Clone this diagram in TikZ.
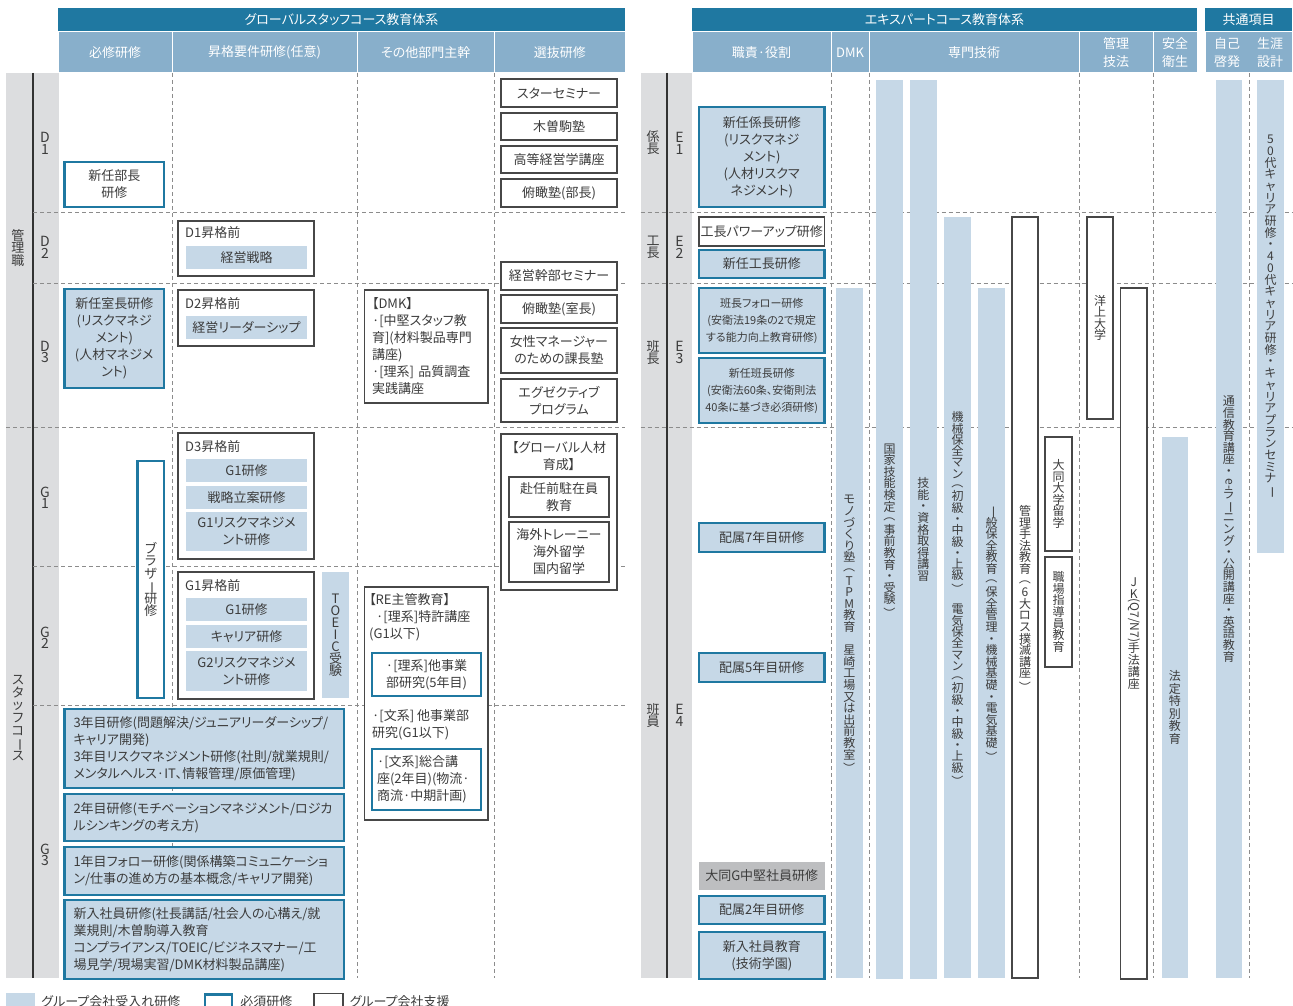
\documentclass[tikz,border=0pt]{standalone}
\usepackage{fontspec}
\setmainfont[RawFeature=+palt]{Noto Sans CJK JP}
\usetikzlibrary{positioning}

\definecolor{hdrblue}{HTML}{1F78A1}
\definecolor{subblue}{HTML}{88AFCB}
\definecolor{lightblue}{HTML}{C6D8E7}
\definecolor{bandgrey}{HTML}{DCDDDF}
\definecolor{boxgrey}{HTML}{BDBEC0}
\definecolor{inkgrey}{HTML}{3C3C3C}

\newcommand\fsz[2]{\fontsize{#1}{#2}\selectfont}
% stacked (vertical) text, one glyph per line
\makeatletter
\newcommand\vtxt@stop{\vtxt@stop@}
\newcommand\vtxt[2][11.6pt]{\vbox{\baselineskip=#1\lineskiplimit=-2pt\lineskip=0.5pt\vtxt@#2\vtxt@stop}}
\def\vtxt@#1{\ifx#1\vtxt@stop\else\hbox to 1.2em{\hss#1\hss}\expandafter\vtxt@\fi}
\makeatother
\newcommand\vrot[1]{\rotatebox[origin=c]{-90}{#1}}
\newcommand\vL{\vrot{（}}
\newcommand\vR{\vrot{）}}
\newcommand\vB{\vrot{ー}}
\newcommand\vI{\vrot{一}}
\newcommand\vJK{\vrot{(Q7/N7)}}
\newcommand\vE{\vrot{e-}}
\newcommand\vsp{}

\begin{document}
\begin{tikzpicture}[x=1pt,y=-1pt,font=\fsz{13}{17},text=inkgrey,
  sz/.style 2 args={minimum width=#1,minimum height=#2},
  hdr/.style={fill=hdrblue,text=white,inner sep=0pt},
  subh/.style={fill=subblue,draw=white,line width=1pt,text=white,inner sep=0pt,align=center,font=\fsz{13}{18}},
  must/.style={draw=hdrblue,line width=2.4pt,fill=white,inner sep=0pt,align=center},
  mustacc/.style={must,fill=lightblue},
  grp/.style={draw=black!72,line width=1.1pt,fill=white,inner sep=0pt,align=center},
  acc/.style={fill=lightblue,inner sep=0pt,align=center},
  mid/.style={fill=boxgrey,inner sep=0pt,align=center},
  small/.style={font=\fsz{11}{17}},
  ttl/.style={anchor=west,inner sep=0pt},
  rowsep/.style={draw=black!45,line width=0.7pt,dash pattern=on 4pt off 3pt},
  rank/.style={inner sep=0pt,font=\fsz{13}{13}},
  grade/.style={inner sep=0pt,font=\fsz{14}{14}},
  vbar/.style={inner sep=0pt,font=\fsz{12}{12}}]
\clip (0,0) rectangle (1293,1006);
\fill[white] (0,0) rectangle (1293,1006);

% headers
\node[hdr,sz={567}{24}] (hdrL) at (341.5,20) {グローバルスタッフコース教育体系};
\node[hdr,sz={505}{24}] (hdrE) at (944.5,20) {エキスパートコース教育体系};
\node[hdr,sz={87}{24}] (hdrC) at (1248.5,20) {共通項目};
\node[subh,sz={114}{41}] (hL1) at (115,52.5) {必修研修};
\node[subh,sz={185}{41}] (hL2) at (264.5,52.5) {昇格要件研修(任意)};
\node[subh,sz={137.5}{41}] (hL3) at (425.75,52.5) {その他部門主幹};
\node[subh,sz={130.5}{41}] (hL4) at (559.75,52.5) {選抜研修};
\node[subh,sz={139}{41}] (hE1) at (761.5,52.5) {職責·役割};
\node[subh,sz={38}{41}] (hE2) at (850,52.5) {DMK};
\node[subh,sz={210}{41}] (hE3) at (974,52.5) {専門技術};
\node[subh,sz={74}{41}] (hE4) at (1116,52.5) {管理\\技法};
\node[subh,sz={44}{41}] (hE5) at (1175,52.5) {安全\\衛生};
\node[subh,sz={87}{41}] (hC1) at (1248.5,52.5) {};
\node[text=white,align=center,inner sep=0pt,font=\fsz{13}{18}] (hC2) at (1227,52.5) {自己\\啓発};
\node[text=white,align=center,inner sep=0pt,font=\fsz{13}{18}] (hC3) at (1270,52.5) {生涯\\設計};

% grade bands
\fill[bandgrey] (6,73) rectangle (59,978);
\fill[bandgrey] (640.5,73) rectangle (692,978);
\draw[line width=1.2pt,black!80] (33,73) -- (33,978);
\draw[line width=1.2pt,black!80] (667,73) -- (667,978);

% grid
\foreach \y in {212,283,566,705} \draw[rowsep] (33,\y) -- (625,\y);
\draw[rowsep] (6,427.5) -- (625,427.5);
\foreach \y in {212,283,427.5} \draw[rowsep] (640.5,\y) -- (1292,\y);
\foreach \x in {172,357,494.5,831,869,1079,1153.5,1249} \draw[rowsep] (\x,73) -- (\x,978);

\node[rank] (rk1) at (18,248) {\vtxt[12.6pt]{管理職}};
\node[rank] (rk2) at (18,718) {\vtxt[12.6pt]{スタッフコ\vB ス}};
\foreach \a/\b/\y in {D/1/143.5,D/2/247.5,D/3/352,G/1/498,G/2/638,G/3/855}
  \node[grade] (gr\a\b) at (45,\y) {\vtxt[11.5pt]{\a\b}};
\node[rank] (rk3) at (653,142.5) {\vtxt[12.6pt]{係長}};
\node[rank] (rk4) at (653,247.5) {\vtxt[12.6pt]{工長}};
\node[rank] (rk5) at (653,352.5) {\vtxt[12.6pt]{班長}};
\node[rank] (rk6) at (653,715.5) {\vtxt[12.6pt]{班員}};
\foreach \b/\y in {1/143.5,2/247.5,3/352.5,4/715.5}
  \node[grade] (grE\b) at (679.5,\y) {\vtxt[11.5pt]{E\b}};

% global staff course
\node[must,sz={99.5}{45}] (bucho) at (114.25,184.5) {新任部長\\研修};
\node[mustacc,sz={99.5}{99}] (shitsucho) at (114.25,338.5) {新任室長研修\\(リスクマネジ\\メント)\\(人材マネジメ\\ント)};
\node[must,sz={26.5}{237}] (brother) at (150.75,579.5) {\vtxt[12.5pt]{ブラザ\vB 研修}};

\node[grp,sz={136}{55}] (preD1) at (246,248.5) {};
\node[ttl] (preD1t) at (185,233) {D1昇格前};
\node[acc,sz={121}{23}] (keiei) at (246.5,257.5) {経営戦略};
\node[grp,sz={136}{56}] (preD2) at (246,318) {};
\node[ttl] (preD2t) at (185,304) {D2昇格前};
\node[acc,sz={121}{23}] (leader) at (246.5,327.5) {経営リーダーシップ};
\node[grp,sz={136}{126}] (preD3) at (246,496) {};
\node[ttl] (preD3t) at (185,447) {D3昇格前};
\node[acc,sz={121}{23}] (g1a) at (246.5,470.5) {G1研修};
\node[acc,sz={121}{23}] (senryaku) at (246.5,497.5) {戦略立案研修};
\node[acc,sz={121}{39}] (riskG1) at (246.5,531.5) {G1リスクマネジメ\\ント研修};
\node[grp,sz={136}{127}] (preG1) at (246,635.5) {};
\node[ttl] (preG1t) at (185,586) {G1昇格前};
\node[acc,sz={121}{23}] (g1b) at (246.5,609.5) {G1研修};
\node[acc,sz={121}{23}] (career) at (246.5,636.5) {キャリア研修};
\node[acc,sz={121}{40}] (riskG2) at (246.5,671) {G2リスクマネジメ\\ント研修};
\node[acc,sz={27}{126}] (toeic) at (335.5,635) {\vtxt[12pt]{TOEIC受験}};

\node[grp,align=left,text width=108.5,inner xsep=7.5pt,minimum height=113] (dmk) at (426.25,346.5)
  {【DMK】\\·[中堅スタッフ教\\育](材料製品専門\\講座)\\·[理系] 品質調査\\実践講座};
\node[grp,sz={123.5}{233}] (re) at (426.25,703.5) {};
\node[anchor=north west,align=left,inner sep=0pt] (ret) at (369,593)
  {【RE主管教育】\\\hspace{7pt}·[理系]特許講座\\(G1以下)};
\node[must,sz={109}{43}] (re1) at (426.5,674.5) {·[理系]他事業\\部研究(5年目)};
\node[anchor=north west,align=left,inner sep=0pt] (ret2) at (372,709) {·[文系] 他事業部\\研究(G1以下)};
\node[must,align=left,text width=99,inner xsep=5pt,minimum height=61] (re2) at (426.5,779.5)
  {·[文系]総合講\\座(2年目)(物流·\\商流·中期計画)};

\foreach \y/\h/\t in {93/28/スターセミナー,126.5/27/木曽駒塾,159.5/27/高等経営学講座,193/28/俯瞰塾(部長),
  276/28/経営幹部セミナー,309/28/俯瞰塾(室長),350.5/45/女性マネージャー\\のための課長塾,400.5/43/エグゼクティブ\\プログラム}
  \node[grp,sz={116}{\h}] at (559,\y) {\t};
\node[grp,sz={116}{156}] (global) at (559,512) {};
\node[align=center,inner sep=0pt] (globalt) at (559,456.5) {【グローバル人材\\育成】};
\node[grp,sz={100}{40}] (funin) at (559,497) {赴任前駐在員\\教育};
\node[grp,sz={100}{60}] (kaigai) at (559,552) {海外トレーニー\\海外留学\\国内留学};

\node[mustacc,align=left,text width=261.5,inner xsep=9pt,minimum height=79] (y3) at (204.25,748.5)
  {3年目研修(問題解決/ジュニアリーダーシップ/\\キャリア開発)\\3年目リスクマネジメント研修(社則/就業規則/\\メンタルヘルス·IT、情報管理/原価管理)};
\node[mustacc,align=left,text width=261.5,inner xsep=9pt,minimum height=47] (y2) at (204.25,817.5)
  {2年目研修(モチベーションマネジメント/ロジカ\\ルシンキングの考え方)};
\node[mustacc,align=left,text width=261.5,inner xsep=9pt,minimum height=48] (y1) at (204.25,871)
  {1年目フォロー研修(関係構築コミュニケーショ\\ン/仕事の進め方の基本概念/キャリア開発)};
\node[mustacc,align=left,text width=261.5,inner xsep=9pt,minimum height=79] (y0) at (204.25,939.5)
  {新入社員研修(社長講話/社会人の心構え/就\\業規則/木曽駒導入教育\\コンプライアンス/TOEIC/ビジネスマナー/工\\場見学/現場実習/DMK材料製品講座)};

% expert course
\node[mustacc,sz={125.5}{100}] (kakari) at (761.75,157) {新任係長研修\\(リスクマネジ\\メント)\\(人材リスクマ\\ネジメント)};
\node[grp,sz={125.5}{29}] (power) at (761.75,231.5) {工長パワーアップ研修};
\node[mustacc,sz={125.5}{28}] (kocho) at (761.75,264) {新任工長研修};
\node[mustacc,small,sz={125.5}{65}] (follow) at (761.75,320.5) {班長フォロー研修\\(安衛法19条の2で規定\\する能力向上教育研修)};
\node[mustacc,small,sz={125.5}{65}] (hancho) at (761.75,390.5) {新任班長研修\\(安衛法60条、安衛則法\\40条に基づき必須研修)};
\node[mustacc,sz={125.5}{29}] (y7) at (761.75,537.5) {配属7年目研修};
\node[mustacc,sz={125.5}{29}] (y5) at (761.75,667.5) {配属5年目研修};
\node[mid,sz={125.5}{28}] (chuken) at (761.75,876) {大同G中堅社員研修};
\node[mustacc,sz={125.5}{28}] (y2e) at (761.75,910) {配属2年目研修};
\node[mustacc,sz={125.5}{47}] (gakuen) at (761.75,955.5) {新入社員教育\\(技術学園)};

\node[acc,vbar,sz={26.5}{690}] (tpm) at (849.25,633) {\vtxt{モノづくり塾\vL TPM教育\vsp 星崎工場又は出前教室\vR}};
\node[acc,vbar,sz={27}{899}] (kokka) at (889.5,529.5) {\vtxt{国家技能検定\vL 事前教育・受験\vR}};
\node[acc,vbar,sz={26.5}{899}] (shikaku) at (923.25,529.5) {\vtxt{技能・資格取得講習}};
\node[acc,vbar,sz={27}{761}] (hozen) at (957.5,597.5) {\vtxt[11.3pt]{機械保全マン\vL 初級・中級・上級\vR\vsp 電気保全マン\vL 初級・中級・上級\vR}};
\node[acc,vbar,sz={27}{690}] (ippan) at (991.5,633) {\vtxt{\vI 般保全教育\vL 保全管理・機械基礎・電気基礎\vR}};
\node[grp,vbar,sz={26}{761}] (loss) at (1025,597.5) {\vtxt{管理手法教育\vL 6大ロス撲滅講座\vR}};
\node[grp,vbar,sz={27}{114}] (daido) at (1058.5,494) {\vtxt{大同大学留学}};
\node[grp,vbar,sz={27}{110}] (shido) at (1058.5,612) {\vtxt{職場指導員教育}};
\node[grp,vbar,sz={26}{202}] (yojo) at (1100,318) {\vtxt{洋上大学}};
\node[grp,vbar,sz={26.5}{691}] (jk) at (1133.75,633.5) {\vtxt[12pt]{JK\vJK 手法講座}};
\node[acc,vbar,sz={26.5}{541}] (hotei) at (1174.75,707.5) {\vtxt[12.5pt]{法定特別教育}};
\node[acc,vbar,sz={26.5}{898}] (tsushin) at (1228.75,529) {\vtxt[11.6pt]{通信教育講座・\vE ラ\vB ニング・公開講座・英語教育}};
\node[acc,vbar,sz={27}{473}] (shogai) at (1270.5,316.5) {\vtxt[11.7pt]{50代キャリア研修・40代キャリア研修・キャリアプランセミナ\vB}};

% legend
\node[acc,sz={29}{17}] (lg1) at (20.5,1001.5) {};
\node[right=6pt of lg1,inner sep=0pt] (lt1) {グループ会社受入れ研修};
\node[must,sz={27}{15}] (lg2) at (218.5,1002) {};
\node[right=7pt of lg2,inner sep=0pt] (lt2) {必須研修};
\node[grp,sz={29}{17}] (lg3) at (328.5,1002) {};
\node[right=6pt of lg3,inner sep=0pt] (lt3) {グループ会社支援};
\end{tikzpicture}
\end{document}
